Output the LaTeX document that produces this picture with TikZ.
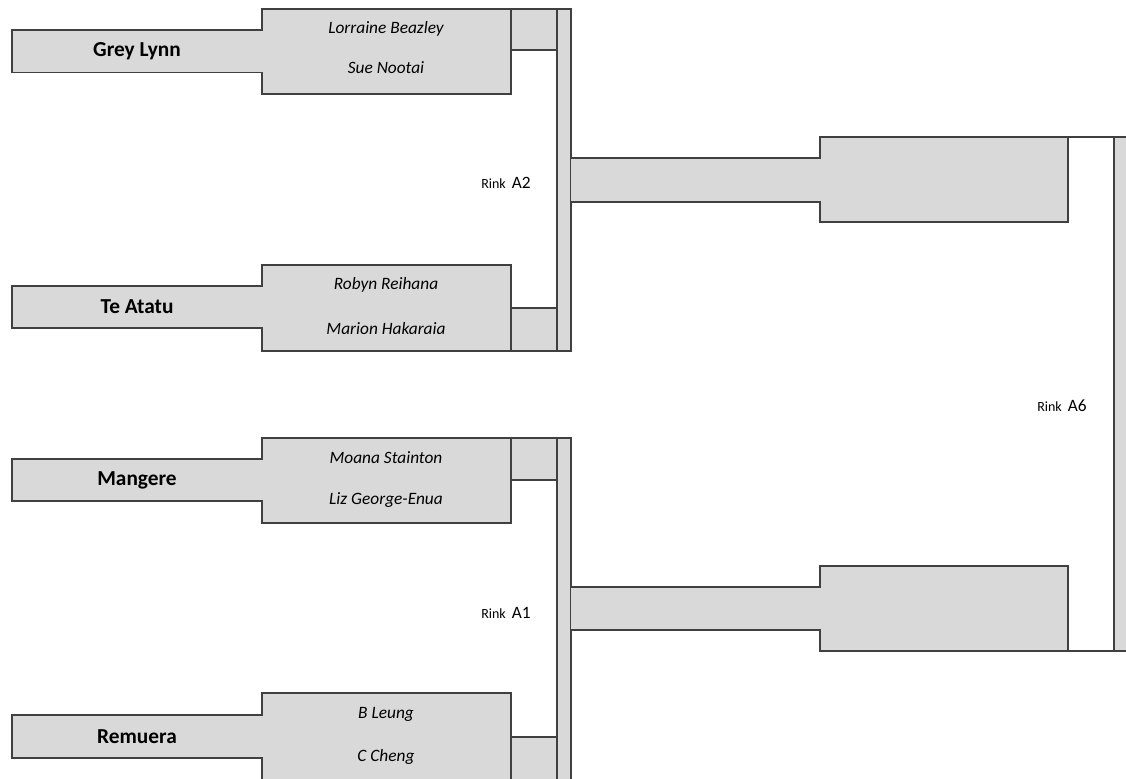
\documentclass[tikz,border=0pt]{standalone}
\usepackage{fontspec}
\setmainfont{Carlito}
\definecolor{cellgray}{HTML}{D9D9D9}
\definecolor{edge}{HTML}{404040}
\tikzset{
  cell/.style={fill=cellgray, draw=edge, line width=0.9pt, line join=miter},
  team/.style={font=\fontsize{16}{19}\selectfont\bfseries, inner sep=0pt},
  player/.style={font=\fontsize{13}{15}\selectfont\itshape, inner sep=0pt},
  rink/.style={inner sep=0pt, anchor=base},
}
\newcommand{\rinklabel}[1]{{\fontsize{10.5}{12}\selectfont Rink}\ \ {\fontsize{13}{15}\selectfont #1}}
\begin{document}
\begin{tikzpicture}[x=0.75pt, y=-0.75pt]
\useasboundingbox (0,0) rectangle (1126,778);
\clip (0,0) rectangle (1126,778);
% ---- team blocks
\draw[cell] (12,30) -- (262,30) -- (262,9) -- (511,9) -- (511,94) -- (262,94) -- (262,72.5) -- (12,72.5) -- cycle;
\draw[cell] (12,286) -- (262,286) -- (262,265) -- (511,265) -- (511,351) -- (262,351) -- (262,328) -- (12,328) -- cycle;
\draw[cell] (12,459) -- (262,459) -- (262,438) -- (511,438) -- (511,523) -- (262,523) -- (262,501) -- (12,501) -- cycle;
\draw[cell] (12,715) -- (262,715) -- (262,693) -- (511,693) -- (511,785) -- (262,785) -- (262,758) -- (12,758) -- cycle;
% ---- small score cells
\draw[cell] (511,9) rectangle (557,50);
\draw[cell] (511,308) rectangle (557,351);
\draw[cell] (511,438) rectangle (557,480);
\draw[cell] (511,737) rectangle (557,785);
% ---- vertical bars
\draw[cell] (557,9) rectangle (571,351);
\draw[cell] (557,438) rectangle (571,785);
% ---- connectors to semi-final result boxes
\draw[cell] (571,158) -- (820,158) -- (820,137) -- (1068,137) -- (1068,222) -- (820,222) -- (820,202) -- (571,202);
\draw[cell] (571,587) -- (820,587) -- (820,566) -- (1068,566) -- (1068,651) -- (820,651) -- (820,630) -- (571,630);
% ---- final bar
\draw[edge, line width=0.9pt] (1068,137) -- (1114,137);
\draw[edge, line width=0.9pt] (1068,651) -- (1114,651);
\draw[cell] (1114,137) rectangle (1135,651);
% ---- team names
\node[team] (greylynn) at (137,51) {Grey Lynn};
\node[team] (teatatu) at (137,307) {Te Atatu};
\node[team] (mangere) at (137,480) {Mangere};
\node[team] (remuera) at (137,736.5) {Remuera};
% ---- players
\node[player] (p1) at (386,29) {Lorraine Beazley};
\node[player] (p2) at (386,68) {Sue Nootai};
\node[player] (p3) at (386,285) {Robyn Reihana};
\node[player] (p4) at (386,329) {Marion Hakaraia};
\node[player] (p5) at (386,458) {Moana Stainton};
\node[player] (p6) at (386,500) {Liz George-Enua};
\node[player] (p7) at (386,714) {B Leung};
\node[player] (p8) at (386,757) {C Cheng};
% ---- rinks
\node[rink] (rinkA2) at (506,188) {\rinklabel{A2}};
\node[rink] (rinkA1) at (506,618) {\rinklabel{A1}};
\node[rink] (rinkA6) at (1062,411) {\rinklabel{A6}};
\end{tikzpicture}
\end{document}
